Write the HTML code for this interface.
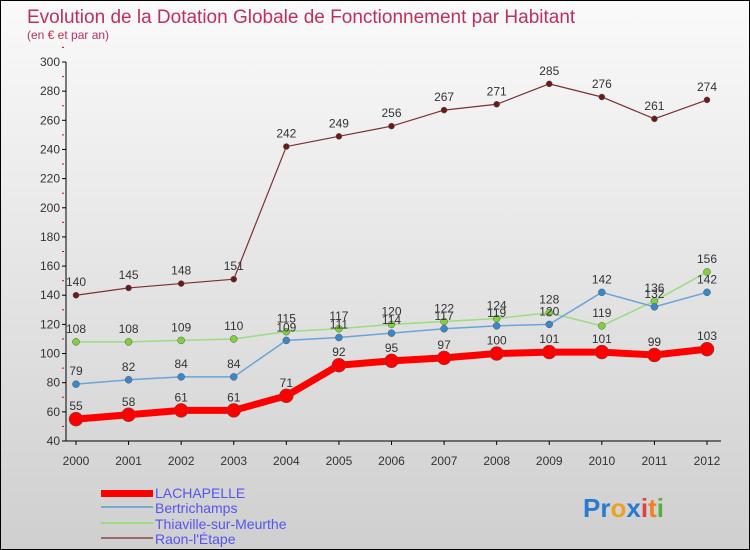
<!DOCTYPE html>
<html><head><meta charset="utf-8"><style>
html,body{margin:0;padding:0}
body{width:750px;height:550px;overflow:hidden;font-family:"Liberation Sans",sans-serif}
#wrap{position:relative;width:748px;height:548px;border:1px solid #000;background:linear-gradient(#fafafa,#cfcfcf)}
svg{position:absolute;left:0;top:0}
</style></head><body>
<div id="wrap">
<svg id="c" width="748" height="548">
<text x="26" y="22" font-size="19" fill="#c0305a">Evolution de la Dotation Globale de Fonctionnement par Habitant</text>
<text x="26" y="38" font-size="12" fill="#c0305a">(en € et par an)</text>
<g id="axes"></g><g id="series"></g>
<g>
<rect x="100" y="489" width="52" height="7" fill="#f00"/>
<text x="154" y="497" font-size="14" fill="#5555ee">LACHAPELLE</text>
<rect x="100" y="505" width="52" height="2" fill="#7aaad0"/>
<text x="154" y="512" font-size="14" fill="#5555ee">Bertrichamps</text>
<rect x="100" y="521" width="52" height="2" fill="#9ddc80"/>
<text x="154" y="528" font-size="14" fill="#5555ee">Thiaville-sur-Meurthe</text>
<rect x="100" y="536" width="52" height="2" fill="#9a6a6a"/>
<text x="154" y="543" font-size="14" fill="#5555ee">Raon-l'Étape</text>
</g>
<text x="582" y="516" font-size="26" font-weight="bold"><tspan fill="#2a7ad0">Pr</tspan><tspan fill="#f0a020">o</tspan><tspan fill="#2a7ad0">x</tspan><tspan fill="#e04040">i</tspan><tspan fill="#f08020">t</tspan><tspan fill="#50b040">i</tspan></text>
</svg></div>
<script>
const years=[2000,2001,2002,2003,2004,2005,2006,2007,2008,2009,2010,2011,2012];
const yTicks=[40,60,80,100,120,140,160,180,200,220,240,260,280,300];
const lachapelle=[55,58,61,61,71,92,95,97,100,101,101,99,103];
const bertrichamps=[79,82,84,84,109,111,114,117,119,120,142,132,142];
const thiaville=[108,108,109,110,115,117,120,122,124,128,119,136,156];
const raon=[140,145,148,151,242,249,256,267,271,285,276,261,274];
const NS="http://www.w3.org/2000/svg";
const X=i=>75+i*(706-75)/(years.length-1);
const Y=v=>440-(v-40)*379/260;
function mk(t,a,p){const e=document.createElementNS(NS,t);for(const k in a)e.setAttribute(k,a[k]);p.appendChild(e);return e;}
const ax=document.getElementById('axes');
const yl=mk('line',{x1:65,y1:61,x2:65,y2:440,stroke:'#000'},ax);


const xl=mk('line',{x1:65,y1:440,x2:720,y2:440,stroke:'#000'},ax);


yTicks.forEach(v=>{
 mk('line',{x1:61,y1:Y(v),x2:65,y2:Y(v),stroke:'#000'},ax);
 mk('line',{x1:61,y1:Y(v+10),x2:63,y2:Y(v+10),stroke:'#e00'},ax);
 const t=mk('text',{x:59,y:Y(v)+4,'font-size':12,'text-anchor':'end',fill:'#333'},ax);
 t.textContent=v;
 
 
});
years.forEach((y,i)=>{
 mk('line',{x1:X(i),y1:440,x2:X(i),y2:444,stroke:'#000'},ax);
 const t=mk('text',{x:X(i),y:464,'font-size':12,'text-anchor':'middle',fill:'#333'},ax);
 t.textContent=y;
 
 
});
const sg=document.getElementById('series');
function draw(data,name,color,w,r,dot){
 const g=mk('g',{},sg);
 
 
 const pl=mk('polyline',{points:data.map((v,i)=>X(i)+','+Y(v)).join(' '),fill:'none',stroke:color,'stroke-width':w,'stroke-linejoin':'round'},g);
 
 
 data.forEach((v,i)=>{
  const c=mk('circle',{cx:X(i),cy:Y(v),r:r,fill:dot,stroke:'#555','stroke-width':0.5},g);
  
  
  const t=mk('text',{x:X(i),y:Y(v)-9,'font-size':12,'text-anchor':'middle',fill:'#333'},g);
  t.textContent=v;
  
  
 });
}
draw(raon,'raon','#7a3030',1.2,3,'#6a1a1a');
draw(thiaville,'thiaville','#9ddc80',1.5,3.5,'#80d040');
draw(bertrichamps,'bertrichamps','#6aa4d8',1.5,3.5,'#3a88cc');
draw(lachapelle,'lachapelle','#f00',7,7,'#f00');
</script>
</body></html>
